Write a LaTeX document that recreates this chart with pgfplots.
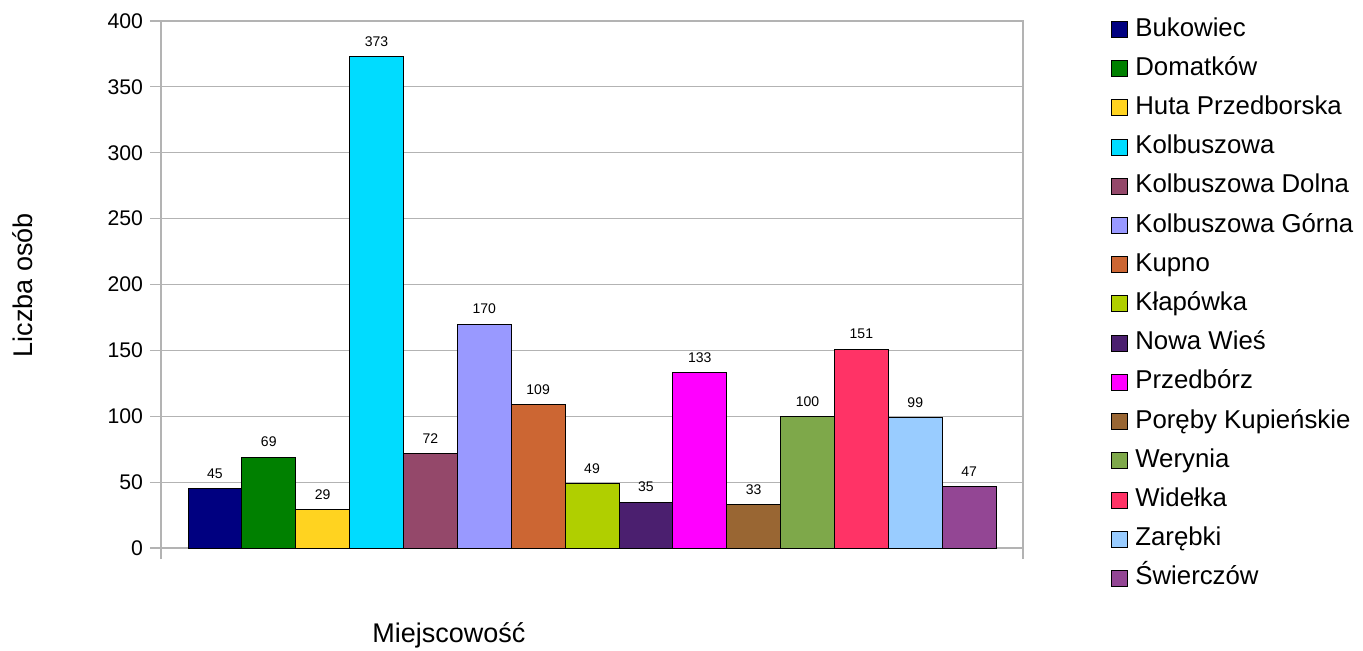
\documentclass[border=0pt]{standalone}
\usepackage{fontspec}
\setmainfont{Liberation Sans}
\usepackage{pgfplots}
\pgfplotsset{compat=1.18}
\definecolor{c1}{HTML}{000080}
\definecolor{c2}{HTML}{008000}
\definecolor{c3}{HTML}{FFD320}
\definecolor{c4}{HTML}{00DCFF}
\definecolor{c5}{HTML}{94486A}
\definecolor{c6}{HTML}{9999FF}
\definecolor{c7}{HTML}{CC6633}
\definecolor{c8}{HTML}{B0CF00}
\definecolor{c9}{HTML}{4B1F6F}
\definecolor{c10}{HTML}{FF00FF}
\definecolor{c11}{HTML}{996633}
\definecolor{c12}{HTML}{7EA84A}
\definecolor{c13}{HTML}{FF3366}
\definecolor{c14}{HTML}{99CCFF}
\definecolor{c15}{HTML}{934694}
\definecolor{axgray}{HTML}{B3B3B3}
\begin{document}
\begin{tikzpicture}
\path[use as bounding box] (0,0) rectangle (681.5pt,325pt);
\begin{axis}[
  at={(80.5pt,51pt)}, anchor=south west,
  scale only axis, width=431pt, height=263.5pt,
  xmin=-1, xmax=15, ymin=0, ymax=400,
  ybar, bar width=1, bar shift=0pt,
  ytick={0,50,...,400},
  xtick={-1,15}, xticklabels={},
  tick pos=left,
  tick align=outside, major tick length=5.5pt,
  tick style={color=axgray, line width=0.6pt},
  axis line style={axgray, line width=0.6pt},
  ymajorgrids, grid style={axgray, line width=0.6pt},
  ticklabel style={font=\fontsize{10.6}{12}\selectfont},
  /pgf/number format/assume math mode=true,
  nodes near coords,
  nodes near coords style={font=\fontsize{7}{8}\selectfont, yshift=1.5pt, text=black},
  ylabel={Liczba osób}, xlabel={Miejscowość},
  label style={font=\fontsize{13.5}{15}\selectfont},
  ylabel style={at={(rel axis cs:-0.161,0.499)}, anchor=center},
  xlabel style={at={(rel axis cs:0.334,-0.165)}, anchor=center},
  legend image code/.code={\draw[#1, draw=black, line width=0.5pt] (0pt,-4pt) rectangle (8pt,4pt);},
  legend cell align=left,
  legend style={at={(rel axis cs:1.102,1.012)}, anchor=north west, draw=none, fill=none,
    inner sep=0pt, font=\fontsize{12.9}{14}\selectfont, row sep=5.1pt, column sep=2.5pt,
    nodes={inner sep=1pt, text height=9.5pt, text depth=3pt}},
]
\addplot[fill=c1, draw=black] coordinates {(0,45)};
\addlegendentry{Bukowiec}
\addplot[fill=c2, draw=black] coordinates {(1,69)};
\addlegendentry{Domatków}
\addplot[fill=c3, draw=black] coordinates {(2,29)};
\addlegendentry{Huta Przedborska}
\addplot[fill=c4, draw=black] coordinates {(3,373)};
\addlegendentry{Kolbuszowa}
\addplot[fill=c5, draw=black] coordinates {(4,72)};
\addlegendentry{Kolbuszowa Dolna}
\addplot[fill=c6, draw=black] coordinates {(5,170)};
\addlegendentry{Kolbuszowa Górna}
\addplot[fill=c7, draw=black] coordinates {(6,109)};
\addlegendentry{Kupno}
\addplot[fill=c8, draw=black] coordinates {(7,49)};
\addlegendentry{Kłapówka}
\addplot[fill=c9, draw=black] coordinates {(8,35)};
\addlegendentry{Nowa Wieś}
\addplot[fill=c10, draw=black] coordinates {(9,133)};
\addlegendentry{Przedbórz}
\addplot[fill=c11, draw=black] coordinates {(10,33)};
\addlegendentry{Poręby Kupieńskie}
\addplot[fill=c12, draw=black] coordinates {(11,100)};
\addlegendentry{Werynia}
\addplot[fill=c13, draw=black] coordinates {(12,151)};
\addlegendentry{Widełka}
\addplot[fill=c14, draw=black] coordinates {(13,99)};
\addlegendentry{Zarębki}
\addplot[fill=c15, draw=black] coordinates {(14,47)};
\addlegendentry{Świerczów}
\end{axis}
\end{tikzpicture}
\end{document}
